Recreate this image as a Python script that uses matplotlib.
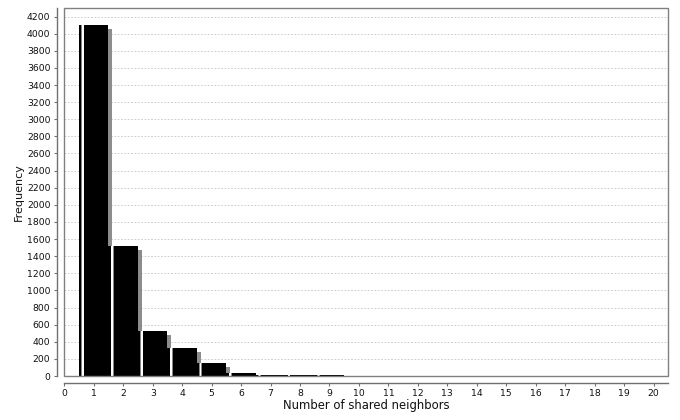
import matplotlib
matplotlib.use("Agg")
import matplotlib.pyplot as plt
import matplotlib.transforms as mtransforms
from matplotlib.patches import Rectangle
import numpy as np

# number of shared neighbors -> frequency
neighbors = list(range(1, 21))
frequency = [4100, 1520, 525, 330, 150, 37, 16, 8, 6, 2,
             1, 1, 0, 0, 0, 0, 0, 0, 0, 0]
x_ticks = list(range(0, 21))
y_ticks = list(range(0, 4201, 200))

fig = plt.figure(figsize=(6.8, 4.2), dpi=100)
W, H = 680, 420
left, right, top, bottom = 64.3, 668.3, 8, 376
ax = fig.add_axes([left / W, 1 - bottom / H, (right - left) / W, (bottom - top) / H])

x = np.array(neighbors, dtype=float)
h = np.array(frequency, dtype=float)

# shadow, 4px right and 4px down
shadow_tr = ax.transData + mtransforms.ScaledTranslation(4 / 100, -4 / 100, fig.dpi_scale_trans)
ax.bar(x, h, width=1.0, color="#8c8c8c", linewidth=0, transform=shadow_tr, zorder=2)

# main bars
ax.bar(x, h, width=1.0, color="black", linewidth=0, zorder=3)
# highlight strip (gradient painter look)
ax.bar(x - 0.5 + 0.078, h, width=0.02, align="edge", color="#888888", linewidth=0, zorder=4)
ax.bar(x - 0.5 + 0.095, h, width=0.06, align="edge", color="white", linewidth=0, zorder=4)
ax.bar(x - 0.5 + 0.155, h, width=0.02, align="edge", color="#888888", linewidth=0, zorder=4)

ax.set_xlim(0, 20.5)
ax.set_ylim(0, 4300)
ax.set_xticks(x_ticks)
ax.set_yticks(y_ticks)

ax.grid(axis="y", color="#c4c4c4", linestyle=(0, (2, 2)), linewidth=0.6, zorder=0)
ax.set_axisbelow(True)

# plot outline
ax.add_patch(Rectangle((0, 0), 1, 1, transform=ax.transAxes, fill=False,
                       edgecolor="#808080", linewidth=1.0, zorder=10, clip_on=False))

for s in ("top", "right"):
    ax.spines[s].set_visible(False)
for s in ("left", "bottom"):
    ax.spines[s].set_position(("outward", 5))
    ax.spines[s].set_color("#707070")
    ax.spines[s].set_linewidth(1.0)

ax.tick_params(axis="both", direction="out", length=2, width=0.8, color="#707070",
               labelsize=6.7, labelcolor="#111111")
ax.tick_params(axis="y", pad=3)
ax.tick_params(axis="x", pad=2.5)

ax.set_xlabel("Number of shared neighbors", fontsize=8.4, color="#111111", labelpad=0.8)
ax.set_ylabel("Frequency", fontsize=8, color="#111111", labelpad=2)

fig.savefig("out.png", dpi=100, facecolor="white")
